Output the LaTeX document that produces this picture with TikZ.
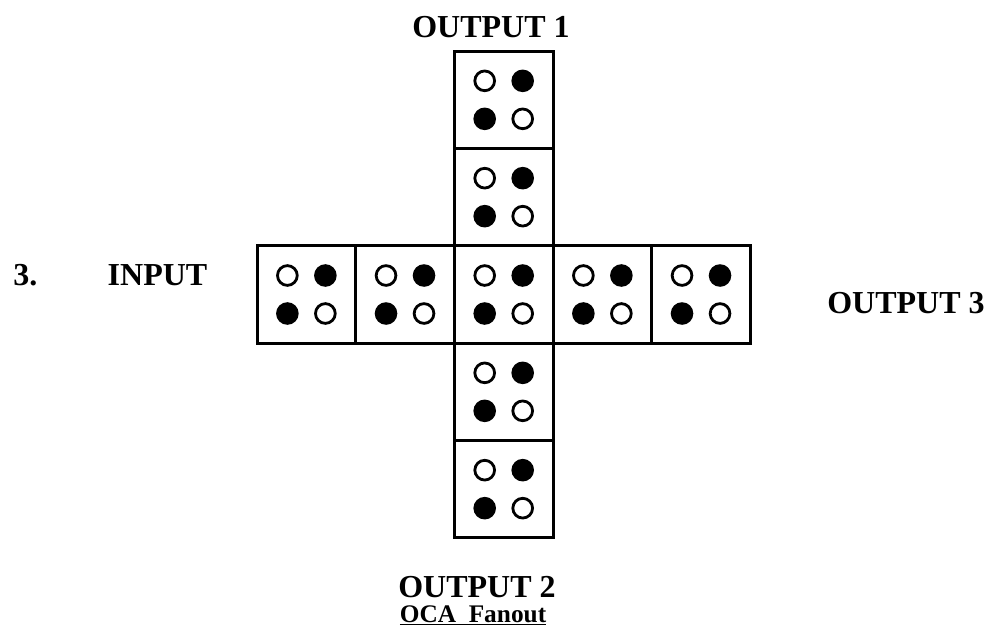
\documentclass[tikz,border=0pt]{standalone}
\usepackage{fontspec}
\setmainfont{Liberation Serif}
\usetikzlibrary{positioning}

\begin{document}
\begin{tikzpicture}[
        x=0.75pt, y=-0.75pt,
        every node/.style={font=\bfseries\fontsize{24}{28}\selectfont, inner sep=1pt},
        cell/.style={
            rectangle,
            draw,
            line width=2.2pt,
            outer sep=0pt,
            minimum width=74pt,
            minimum height=73pt
        },
        hole/.style={
            circle,
            draw,
            line width=2.1pt,
            inner sep=0pt,
            minimum size=14.8pt
        },
        dot/.style={
            hole,
            fill=black
        },
        caption/.style={
            font=\bfseries\fontsize{19}{22}\selectfont
        }
    ]

    \useasboundingbox (0,0) rectangle (996,643);

    % Centre cell
    \node[cell] (c0) at (503.7,294.5) {};

    % Row to the west and east
    \node[cell, left=0pt of c0] (w1) {};
    \node[cell, left=0pt of w1] (w2) {};
    \node[cell, right=0pt of c0] (e1) {};
    \node[cell, right=0pt of e1] (e2) {};

    % Column to the north and south
    \node[cell, above=0pt of c0] (n1) {};
    \node[cell, above=0pt of n1] (n2) {};
    \node[cell, below=0pt of c0] (s1) {};
    \node[cell, below=0pt of s1] (s2) {};

    % Four dots in every cell
    \foreach \c in {n2,n1,w2,w1,c0,e1,e2,s1,s2} {
        \node[hole] (\c-tl) at ([shift={(-19,-19)}]\c.center) {};
        \node[dot]  (\c-tr) at ([shift={(19,-19)}]\c.center) {};
        \node[dot]  (\c-bl) at ([shift={(-19,19)}]\c.center) {};
        \node[hole] (\c-br) at ([shift={(19,19)}]\c.center) {};
    }

    % Labels
    \node[anchor=base] (out1) at (491,37) {OUTPUT 1};
    \node[anchor=base] (num) at (25.5,285) {3.};
    \node[anchor=base] (in) at (157.5,285) {INPUT};
    \node[anchor=base] (out3) at (906,313) {OUTPUT 3};
    \node[anchor=base] (out2) at (477,597) {OUTPUT 2};
    \node[caption, anchor=base] (title) at (473,622)
        {\underline{OCA\ \ Fanout}};

\end{tikzpicture}
\end{document}
